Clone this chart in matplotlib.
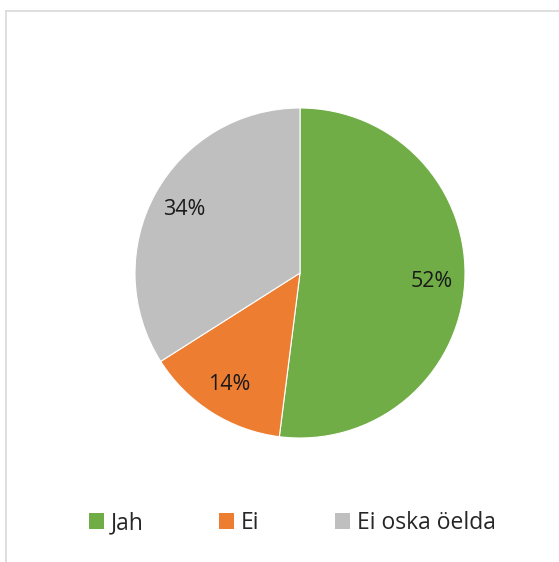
import numpy as np
import matplotlib.pyplot as plt
from matplotlib.patches import Patch
from matplotlib.lines import Line2D

plt.rcParams['font.family'] = ['Open Sans', 'DejaVu Sans']

# answers and their shares (%)
labels = ['Jah', 'Ei', 'Ei oska öelda']
values = [52, 14, 34]
colors = ['#70AD47', '#ED7D31', '#BFBFBF']

fig = plt.figure(figsize=(5.59, 5.62), dpi=100)

# chart frame (only top and left edges are visible in the crop)
fig.add_artist(Line2D([6/559, 6/559], [0, 1 - 11/562], transform=fig.transFigure,
                      color='#D9D9D9', lw=1.2))
fig.add_artist(Line2D([6/559, 1], [1 - 11/562, 1 - 11/562], transform=fig.transFigure,
                      color='#D9D9D9', lw=1.2))

ax = fig.add_axes([135/559, 124/562, 330/559, 330/562])
wedges, texts = ax.pie(values, colors=colors, startangle=90, counterclock=False,
                       wedgeprops=dict(edgecolor='white', linewidth=0.8),
                       radius=1)
for w, v in zip(wedges, values):
    ang = np.deg2rad((w.theta1 + w.theta2) / 2)
    ax.text(0.8 * np.cos(ang), 0.8 * np.sin(ang), f'{v}%', ha='center', va='center',
            fontsize=15.5, color='#1a1a1a')
ax.set_xlim(-1, 1)
ax.set_ylim(-1, 1)
ax.set_aspect('equal')
ax.axis('off')

handles = [Patch(facecolor=c, edgecolor='none') for c in colors]
fig.legend(handles, labels, loc='center', bbox_to_anchor=(0.523, 1 - 523/562), ncol=3,
           frameon=False, fontsize=16.5, handlelength=0.65, handleheight=0.65,
           handletextpad=0.3, columnspacing=3.3, labelcolor='#262626')

fig.savefig('out.png', dpi=100)
